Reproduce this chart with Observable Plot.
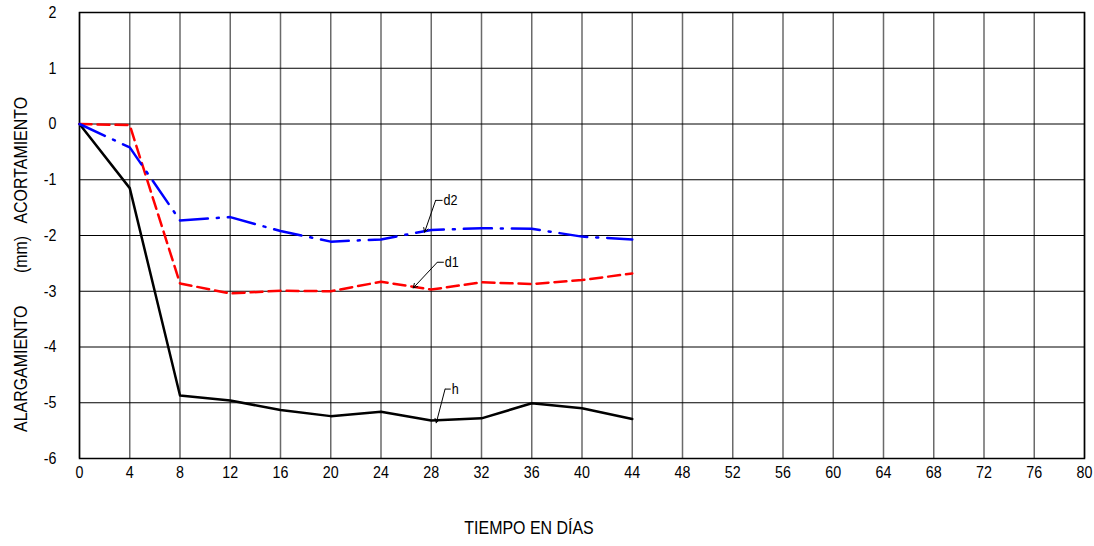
<!DOCTYPE html>
<html>
<head>
<meta charset="utf-8">
<script src="https://cdn.jsdelivr.net/npm/d3@7"></script>
<script src="https://cdn.jsdelivr.net/npm/@observablehq/plot@0.6"></script>
<style>
  html, body { margin: 0; padding: 0; background: #fff; }
</style>
</head>
<body>
<div id="chart"></div>
<script>
// ---- data ----
const days = [0, 4, 8, 12, 16, 20, 24, 28, 32, 36, 40, 44];
const h  = [0, -1.15, -4.87, -4.96, -5.13, -5.24, -5.16, -5.32, -5.28, -5.01, -5.10, -5.29];
const d1 = [0, -0.02, -2.86, -3.04, -2.99, -3.00, -2.83, -2.97, -2.84, -2.87, -2.80, -2.68];
const d2 = [0, -0.42, -1.73, -1.67, -1.92, -2.11, -2.07, -1.90, -1.87, -1.88, -2.02, -2.07];

const xTicks = [0, 4, 8, 12, 16, 20, 24, 28, 32, 36, 40, 44, 48, 52, 56, 60, 64, 68, 72, 76, 80];
const yTicks = [2, 1, 0, -1, -2, -3, -4, -5, -6];

// annotation leaders (data units)
const labels = ["d2", "d1", "h"];
const elbowX = [28.35, 28.48, 29.1];
const elbowY = [-1.37, -2.48, -4.755];
const stubX  = [28.9, 29.0, 29.55];
const tipX   = [27.47, 26.57, 28.4];
const tipY   = [-1.94, -2.94, -5.36];

// axis titles
const yTitleParts = ["ALARGAMIENTO", "(mm)", "ACORTAMIENTO"];
const yTitlePos   = [-4.39, -2.34, -0.65];
const xTitle = "TIEMPO EN DÍAS";

const font = "'Liberation Sans', Arial, sans-serif";

const chart = Plot.plot({
  width: 1094,
  height: 546,
  marginLeft: 79,
  marginRight: 10,
  marginTop: 12,
  marginBottom: 88,
  style: { fontFamily: font, fontSize: "17px", background: "#fff", color: "#000" },
  x: { domain: [0, 80] },
  y: { domain: [-6, 2] },
  marks: [
    Plot.gridX(xTicks, { stroke: "#6a6a6a", strokeOpacity: 1, strokeWidth: 1.5 }),
    Plot.gridY(yTicks, { stroke: "#000", strokeOpacity: 1, strokeWidth: 1 }),
    Plot.frame({ stroke: "#000", strokeWidth: 1.5 }),
    Plot.axisX(xTicks, { tickSize: 0, tickPadding: 7, label: null, fontSize: 17, tickFormat: d => String(d) }),
    Plot.axisY(yTicks, { tickSize: 0, tickPadding: 23, label: null, fontSize: 17, tickFormat: d => String(d) }),
    Plot.line(days, { x: days, y: h, stroke: "#000", strokeWidth: 2.5 }),
    Plot.line(days, { x: days, y: d1, stroke: "#ff0000", strokeWidth: 2.5, strokeDasharray: "12,6" }),
    Plot.line(days, { x: days, y: d2, stroke: "#0000ff", strokeWidth: 2.5, strokeDasharray: "28,9,2,9" }),
    Plot.link(labels, { x1: elbowX, y1: elbowY, x2: stubX, y2: elbowY, stroke: "#000", strokeWidth: 1 }),
    Plot.arrow(labels, { x1: elbowX, y1: elbowY, x2: tipX, y2: tipY, stroke: "#000", strokeWidth: 1, headLength: 7 }),
    Plot.text(labels, { x: stubX, y: elbowY, text: d => d, textAnchor: "start", dx: 1, fontSize: 15 }),
    Plot.text(yTitleParts, { frameAnchor: "left", y: yTitlePos, text: d => d, textAnchor: "middle", dx: -59, rotate: -90, fontSize: 19 }),
    Plot.text([xTitle], { frameAnchor: "bottom", text: d => d, textAnchor: "middle", dx: -53, dy: 75, fontSize: 19 })
  ]
});
document.getElementById("chart").appendChild(chart);

// condense all text horizontally (narrow face look-alike)
d3.select(chart).selectAll("text").each(function () {
  const t = this.getAttribute("transform");
  if (t) this.setAttribute("transform", t + " scale(0.84,1)");
});
</script>
</body>
</html>
